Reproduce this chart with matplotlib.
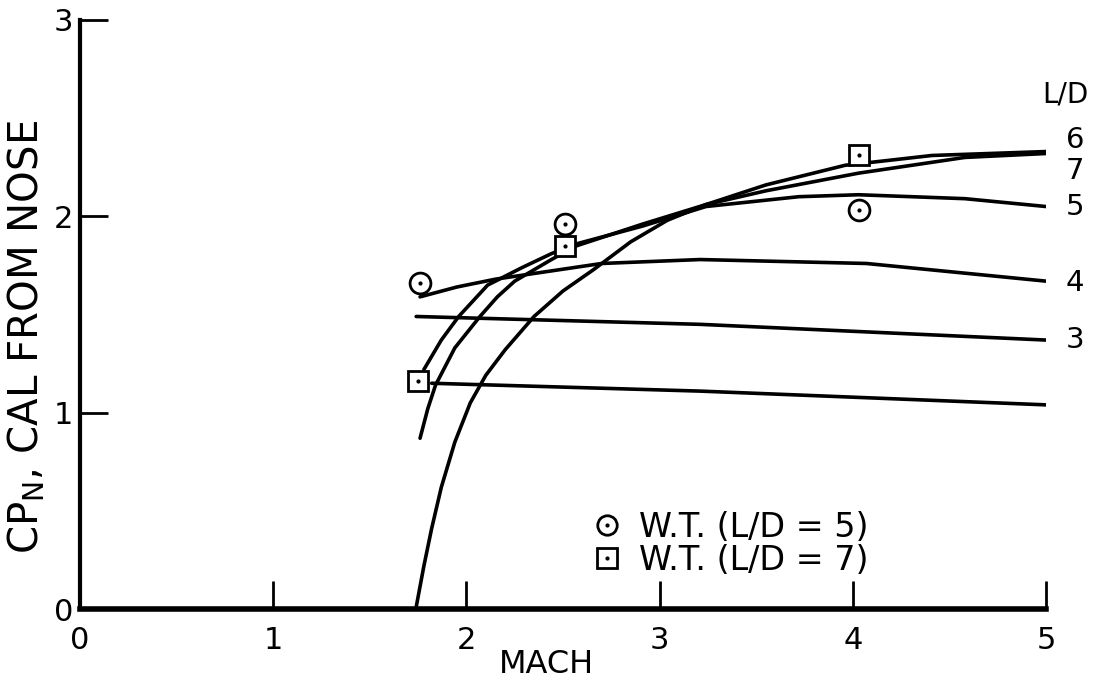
import matplotlib
matplotlib.use('Agg')
import matplotlib.pyplot as plt
from matplotlib.lines import Line2D
from matplotlib.legend_handler import HandlerTuple

plt.rcParams['font.family'] = ['DejaVu Sans']

# theory curves, one per L/D
mach_7 = [1.74, 1.78, 1.82, 1.87, 1.94, 2.02, 2.10, 2.20, 2.35, 2.50, 2.66, 2.85, 3.04, 3.24,
          3.55, 4.03, 4.58, 5.0]
cp_7 = [0.01, 0.22, 0.41, 0.62, 0.85, 1.05, 1.19, 1.32, 1.49, 1.62, 1.73, 1.87, 1.98, 2.06,
        2.13, 2.22, 2.30, 2.32]

mach_6 = [1.76, 1.80, 1.84, 1.94, 2.07, 2.16, 2.25, 2.44, 2.57, 2.91, 3.24, 3.55, 3.96, 4.41, 5.0]
cp_6 = [0.87, 1.02, 1.14, 1.33, 1.49, 1.59, 1.67, 1.78, 1.85, 1.96, 2.06, 2.16, 2.26, 2.31, 2.33]

mach_5 = [1.78, 1.87, 1.96, 2.11, 2.29, 2.44, 2.57, 2.91, 3.24, 3.72, 4.03, 4.58, 5.0]
cp_5 = [1.22, 1.37, 1.49, 1.65, 1.74, 1.81, 1.86, 1.95, 2.05, 2.10, 2.11, 2.09, 2.05]

mach_4 = [1.76, 1.95, 2.15, 2.7, 3.21, 4.07, 5.0]
cp_4 = [1.59, 1.64, 1.68, 1.76, 1.78, 1.76, 1.67]

mach_3 = [1.74, 3.21, 5.0]
cp_3 = [1.49, 1.45, 1.37]

mach_2 = [1.82, 3.21, 5.0]
cp_2 = [1.15, 1.11, 1.04]

# wind tunnel points
wt5_mach = [1.76, 2.51, 4.03]
wt5_cp = [1.66, 1.96, 2.03]
wt7_mach = [1.75, 2.51, 4.03]
wt7_cp = [1.16, 1.85, 2.31]

# curve end labels
ld_labels = ['6', '7', '5', '4', '3']
ld_label_y = [2.39, 2.23, 2.05, 1.66, 1.37]

fig = plt.figure(figsize=(11.02, 6.89), dpi=100)
ax = fig.add_axes([0.0726, 0.116, 0.8766, 0.855])

lw = 2.6
for mx, cy in [(mach_7, cp_7), (mach_6, cp_6), (mach_5, cp_5),
               (mach_4, cp_4), (mach_3, cp_3), (mach_2, cp_2)]:
    ax.plot(mx, cy, color='black', lw=lw, solid_capstyle='round',
            solid_joinstyle='round', zorder=2)

ax.plot(wt5_mach, wt5_cp, 'o', ms=15, mfc='white', mec='black', mew=2, zorder=3)
ax.plot(wt5_mach, wt5_cp, '.', ms=4, color='black', zorder=4)
ax.plot(wt7_mach, wt7_cp, 's', ms=15, mfc='white', mec='black', mew=2, zorder=3)
ax.plot(wt7_mach, wt7_cp, '.', ms=4, color='black', zorder=4)

for lab, yy in zip(ld_labels, ld_label_y):
    ax.text(5.15, yy, lab, fontsize=21, ha='center', va='center', clip_on=False)
ax.text(5.1, 2.62, 'L/D', fontsize=20, ha='center', va='center', clip_on=False)

h5 = (Line2D([], [], marker='o', ls='none', ms=14, mfc='white', mec='black', mew=2),
      Line2D([], [], marker='.', ls='none', ms=4, color='black'))
h7 = (Line2D([], [], marker='s', ls='none', ms=14, mfc='white', mec='black', mew=2),
      Line2D([], [], marker='.', ls='none', ms=4, color='black'))
ax.legend([h5, h7], ['W.T. (L/D = 5)', 'W.T. (L/D = 7)'],
          handler_map={tuple: HandlerTuple(ndivide=1)},
          loc='upper left', bbox_to_anchor=(0.513, 0.195), frameon=False,
          fontsize=24, handlelength=0.9, handletextpad=0.5, labelspacing=0.0,
          borderpad=0)

ax.set_xlim(0, 5)
ax.set_ylim(0, 3)
ax.set_xticks(range(0, 6))
ax.set_yticks(range(0, 4))
ax.spines['top'].set_visible(False)
ax.spines['right'].set_visible(False)
ax.spines['left'].set_linewidth(3)
ax.spines['bottom'].set_linewidth(4)
ax.tick_params(axis='both', direction='in', length=20, width=2, labelsize=22)
ax.tick_params(axis='x', pad=12)
ax.tick_params(axis='y', pad=5)

ax.set_xlabel('MACH', fontsize=23)
ax.xaxis.set_label_coords(0.483, -0.068)
ax.set_ylabel('CP$_\\mathregular{N}$, CAL FROM NOSE', fontsize=29)
ax.yaxis.set_label_coords(-0.034, 0.462)

fig.savefig('out.png', dpi=100)
